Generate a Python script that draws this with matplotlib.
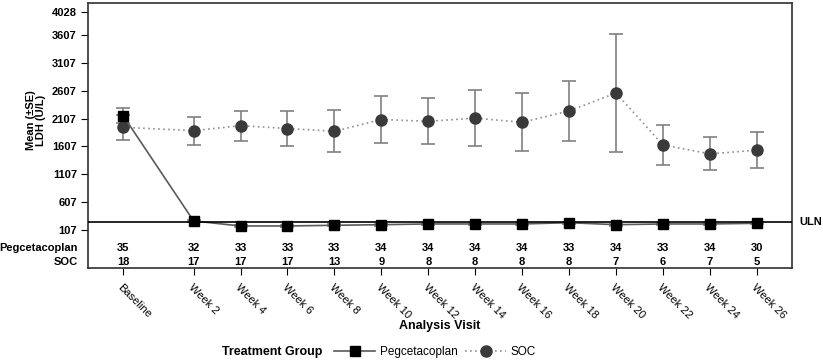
import numpy as np
import matplotlib.pyplot as plt

plt.rcParams['font.family'] = ['Liberation Sans Narrow', 'Liberation Sans', 'DejaVu Sans']

visits = ["Baseline", "Week 2", "Week 4", "Week 6", "Week 8", "Week 10", "Week 12",
          "Week 14", "Week 16", "Week 18", "Week 20", "Week 22", "Week 24", "Week 26"]
weeks = [-1, 2, 4, 6, 8, 10, 12, 14, 16, 18, 20, 22, 24, 26]

peg_mean = [2161, 264, 174, 174, 186, 197, 210, 210, 210, 233, 197, 210, 210, 222]
peg_se = [140, 20, 15, 15, 15, 15, 15, 15, 15, 15, 15, 15, 15, 15]
soc_mean = [1952, 1891, 1981, 1930, 1880, 2092, 2060, 2117, 2042, 2246, 2570, 1633, 1473, 1540]
soc_se = [225, 250, 270, 318, 380, 418, 415, 500, 525, 545, 1070, 360, 298, 330]

n_peg = [35, 32, 33, 33, 33, 34, 34, 34, 34, 33, 34, 33, 34, 30]
n_soc = [18, 17, 17, 17, 13, 9, 8, 8, 8, 8, 7, 6, 7, 5]

yticks = [107, 607, 1107, 1607, 2107, 2607, 3107, 3607, 4028]
uln = 246

fig = plt.figure(figsize=(8.23, 3.64), dpi=100)
ax = fig.add_axes([88/823, 1-268.3/364, (792-88)/823, (268.3-2.7)/364])

ax.errorbar(weeks, soc_mean, yerr=soc_se, fmt='none', ecolor='#808080',
            elinewidth=1.2, capsize=5, capthick=1.2, zorder=2)
ax.errorbar(weeks, peg_mean, yerr=peg_se, fmt='none', ecolor='#808080',
            elinewidth=1.2, capsize=5, capthick=1.2, zorder=2)
ax.plot(weeks, soc_mean, linestyle=(0, (1, 2)), color='#909090', lw=1.2,
        marker='o', markersize=8, markerfacecolor='#3a3a3a',
        markeredgecolor='#3a3a3a', zorder=3, label='SOC')
ax.plot(weeks, peg_mean, linestyle='-', color='#5a5a5a', lw=1.2,
        marker='s', markersize=7, markerfacecolor='black',
        markeredgecolor='black', zorder=4, label='Pegcetacoplan')

ax.axhline(uln, color='black', lw=1.2, zorder=5)
fig.text(799/823, 1-222/364, "ULN", ha='left', va='center',
         fontsize=8, fontweight='bold')

ax.set_xlim(-2.5, 27.5)
ax.set_ylim(-589, 4197)
ax.set_yticks(yticks)
ax.set_yticklabels([str(v) for v in yticks], fontsize=8, fontweight='bold')
ax.set_xticks(weeks)
ax.set_xticklabels(visits, rotation=-45, ha='left', va='top', rotation_mode='anchor',
                   fontsize=8)
ax.tick_params(axis='x', length=5, pad=5)
ax.tick_params(axis='y', length=5, pad=3)
for s in ax.spines.values():
    s.set_color('#303030')
    s.set_linewidth(1.2)

# counts table inside axes, below the data
for x, a, b in zip(weeks, n_peg, n_soc):
    ax.text(x, -223, str(a), ha='center', va='center', fontsize=8, fontweight='bold')
    ax.text(x, -475, str(b), ha='center', va='center', fontsize=8, fontweight='bold')
fig.text(78/823, 1-248/364, "Pegcetacoplan", ha='right', va='center', fontsize=8, fontweight='bold')
fig.text(78/823, 1-262/364, "SOC", ha='right', va='center', fontsize=8, fontweight='bold')

fig.text(36/823, 1-120/364, "Mean (\u00b1SE)\nLDH (U/L)", rotation=90, ha='center',
         va='center', fontsize=8, fontweight='bold', linespacing=1.1)
fig.text(440/823, 1-326/364, "Analysis Visit", ha='center', va='center',
         fontsize=9, fontweight='bold')

handles, labels = ax.get_legend_handles_labels()
fig.text(322/823, 1-352/364, "Treatment Group", ha='right', va='center',
         fontsize=9, fontweight='bold')
fig.legend(handles[::-1], labels[::-1], loc='center left', bbox_to_anchor=(334/823, 1-352/364),
           ncol=2, frameon=False, fontsize=8.5, handlelength=3.5, columnspacing=0.6,
           handletextpad=0.4, borderpad=0, borderaxespad=0)

fig.savefig("out.png", dpi=100)
